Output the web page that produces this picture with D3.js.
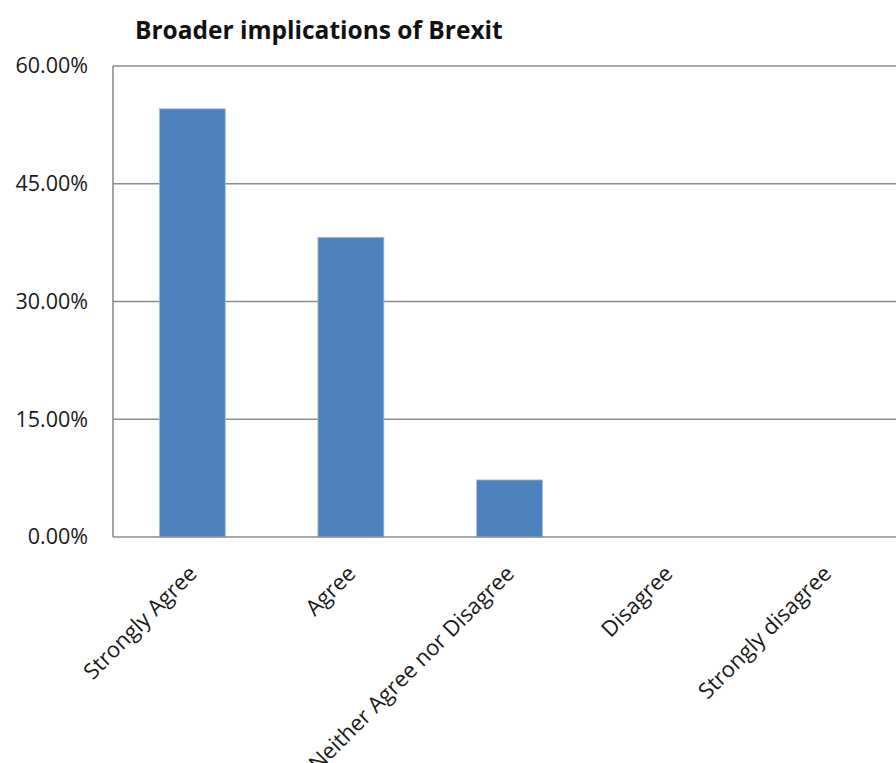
<!DOCTYPE html>
<html>
<head>
<meta charset="utf-8">
<script src="https://cdn.jsdelivr.net/npm/d3@7"></script>
<style>
  html, body { margin: 0; padding: 0; background: #fff; }
  svg { display: block; }
</style>
</head>
<body>
<script>
// Survey responses: share of respondents per answer
const categories = ["Strongly Agree", "Agree", "Neither Agree nor Disagree", "Disagree", "Strongly disagree"];
const shares = [54.55, 38.18, 7.27, 0, 0];
const yTicks = [0, 15, 30, 45, 60];
const chartTitle = "Broader implications of Brexit";

const W = 896, H = 763;
const margin = { top: 66, left: 113, bottom: 226 };
const plotRight = 906; // plot area continues past the right edge
const y0 = H - margin.bottom;

const svg = d3.select("body").append("svg")
  .attr("width", W).attr("height", H);

const x = d3.scaleBand()
  .domain(categories)
  .range([margin.left, plotRight])
  .paddingInner(0.584)
  .paddingOuter(0.292);

const y = d3.scaleLinear()
  .domain([0, 60])
  .range([y0, margin.top]);

const font = "'Open Sans', 'Noto Sans', sans-serif";

// horizontal gridlines
svg.append("g")
  .selectAll("line")
  .data(yTicks.filter(d => d > 0))
  .join("line")
  .attr("x1", margin.left).attr("x2", plotRight)
  .attr("y1", d => y(d)).attr("y2", d => y(d))
  .attr("stroke", "#8c8c8c")
  .attr("stroke-width", 1.3);

// y axis labels
const yAxis = d3.axisLeft(y)
  .tickValues(yTicks)
  .tickSize(0)
  .tickPadding(25)
  .tickFormat(d => d.toFixed(2) + "%");

svg.append("g")
  .attr("transform", `translate(${margin.left},0)`)
  .call(yAxis)
  .call(g => g.select(".domain").remove())
  .selectAll("text")
  .attr("font-family", font)
  .attr("font-size", 21.5)
  .attr("fill", "#1a1a1a");

// bars
svg.append("g")
  .selectAll("rect")
  .data(categories.map((c, i) => ({ c, v: shares[i] })).filter(d => d.v > 0))
  .join("rect")
  .attr("x", d => x(d.c))
  .attr("y", d => y(d.v))
  .attr("width", x.bandwidth())
  .attr("height", d => y0 - y(d.v))
  .attr("fill", "#4f81bd")
  .attr("stroke", "#a9c1de")
  .attr("stroke-width", 0.8);

// axis lines
svg.append("line")
  .attr("x1", margin.left).attr("x2", margin.left)
  .attr("y1", margin.top).attr("y2", y0)
  .attr("stroke", "#8c8c8c").attr("stroke-width", 1.6);
svg.append("line")
  .attr("x1", margin.left).attr("x2", plotRight)
  .attr("y1", y0).attr("y2", y0)
  .attr("stroke", "#8c8c8c").attr("stroke-width", 1.6);

// category labels, rotated
const xAxis = d3.axisBottom(x).tickSize(0).tickPadding(0);
svg.append("g")
  .attr("transform", `translate(0,${y0})`)
  .call(xAxis)
  .call(g => g.select(".domain").remove())
  .selectAll("text")
  .attr("font-family", font)
  .attr("font-size", 22)
  .attr("fill", "#1a1a1a")
  .attr("text-anchor", "end")
  .attr("dy", null)
  .attr("y", 0)
  .attr("transform", "translate(6,38) rotate(-45)");

// title
svg.append("text")
  .attr("x", 135).attr("y", 39)
  .attr("font-family", font)
  .attr("font-weight", "bold")
  .attr("font-size", 24.5)
  .attr("letter-spacing", 0)
  .attr("fill", "#111")
  .text(chartTitle);
</script>
</body>
</html>
